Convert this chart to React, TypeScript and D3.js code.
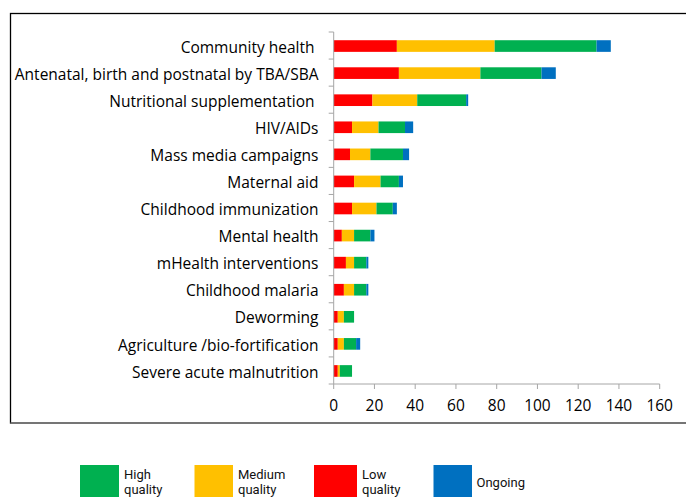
import React from "react";
import * as d3 from "d3";

const categories = [
  "Community health ",
  "Antenatal, birth and postnatal by TBA/SBA",
  "Nutritional supplementation ",
  "HIV/AIDs",
  "Mass media campaigns",
  "Maternal aid",
  "Childhood immunization",
  "Mental health",
  "mHealth interventions",
  "Childhood malaria",
  "Deworming",
  "Agriculture /bio-fortification",
  "Severe acute malnutrition",
];
const lowQuality = [31, 32, 19, 9, 8, 10, 9, 4, 6, 5, 2, 2, 2];
const mediumQuality = [48, 40, 22, 13, 10, 13, 12, 6, 4, 5, 3, 3, 1];
const highQuality = [50, 30, 24, 13, 16, 9, 8, 8, 6, 6, 5, 6, 6];
const ongoing = [7, 7, 1, 4, 3, 2, 2, 2, 1, 1, 0, 2, 0];
const xTicks = [0, 20, 40, 60, 80, 100, 120, 140, 160];

const seriesKeys = ["low", "medium", "high", "ongoing"];
const colors: Record<string, string> = {
  low: "#FF0000",
  medium: "#FFC000",
  high: "#00B050",
  ongoing: "#0070C0",
};
const legendItems = [
  { key: "high", lines: ["High", "quality"], x: 80, w: 39 },
  { key: "medium", lines: ["Medium", "quality"], x: 194.5, w: 38.5 },
  { key: "low", lines: ["Low", "quality"], x: 314, w: 43 },
  { key: "ongoing", lines: ["Ongoing"], x: 433.5, w: 38.5 },
];

export default function App() {
  const W = 686, H = 497;
  const x = d3.scaleLinear().domain([0, 160]).range([333.7, 659.7]);
  const y = d3.scaleBand<string>().domain(categories).range([32, 384]).paddingInner(0.57).paddingOuter(0.285);
  const step = y.step();
  const rows = categories.map((c, i) => ({
    cat: c,
    low: lowQuality[i],
    medium: mediumQuality[i],
    high: highQuality[i],
    ongoing: ongoing[i],
  }));
  const stacked = d3.stack<any>().keys(seriesKeys)(rows);
  const axisColor = "#A6A6A6";
  const labelFont = "'Open Sans', Lato, sans-serif";
  const legendFont = "Roboto, 'Liberation Sans', sans-serif";

  return (
    <svg width={W} height={H} style={{ position: "absolute", left: 0, top: 0, background: "#fff" }}>
      <rect x={10.5} y={13.5} width={690} height={409.5} fill="#fff" stroke="#000" strokeWidth={1.3} />
      <line x1={10.5} x2={686} y1={423} y2={423} stroke="#7f7f7f" strokeWidth={1.5} />
      {stacked.map((s) => (
        <g key={s.key}>
          {s.map((d, i) => (
            d[1] - d[0] > 0 ? (
              <rect
                key={i}
                x={x(d[0])}
                width={x(d[1]) - x(d[0])}
                y={y(categories[i])! + 0.5}
                height={y.bandwidth()}
                fill={colors[s.key]}
              />
            ) : null
          ))}
        </g>
      ))}
      {/* y axis */}
      <line x1={x(0)} x2={x(0)} y1={32} y2={384} stroke={axisColor} strokeWidth={1} />
      {d3.range(categories.length + 1).map((i) => (
        <line key={i} x1={x(0) - 5} x2={x(0)} y1={32 + i * step} y2={32 + i * step} stroke={axisColor} />
      ))}
      {categories.map((c) => (
        <text
          key={c}
          x={318.5}
          y={y(c)! + y.bandwidth() / 2 + 3}
          textAnchor="end"
          dominantBaseline="middle"
          fontFamily={labelFont}
          fontSize={15.5}
          fill="#000"
          style={{ whiteSpace: "pre" }}
          xmlSpace="preserve"
        >
          {c}
        </text>
      ))}
      {/* x axis */}
      <line x1={x(0)} x2={x(160)} y1={384} y2={384} stroke={axisColor} />
      {xTicks.map((t) => (
        <g key={t}>
          <line x1={x(t)} x2={x(t)} y1={384} y2={389} stroke={axisColor} />
          <text x={x(t)} y={407} textAnchor="middle" dominantBaseline="middle" fontFamily={labelFont} fontSize={15.5} fill="#000">
            {t}
          </text>
        </g>
      ))}
      {/* legend */}
      {legendItems.map((l) => (
        <g key={l.key}>
          <rect x={l.x} y={465} width={l.w} height={34} fill={colors[l.key]} />
          {l.lines.length === 2 ? (
            <>
              <text x={l.x + l.w + 5} y={476} dominantBaseline="middle" fontFamily={legendFont} fontSize={13} fill="#111">{l.lines[0]}</text>
              <text x={l.x + l.w + 5} y={491} dominantBaseline="middle" fontFamily={legendFont} fontSize={13} fill="#111">{l.lines[1]}</text>
            </>
          ) : (
            <text x={l.x + l.w + 4.5} y={484} dominantBaseline="middle" fontFamily={legendFont} fontSize={13} fill="#111">{l.lines[0]}</text>
          )}
        </g>
      ))}
    </svg>
  );
}
